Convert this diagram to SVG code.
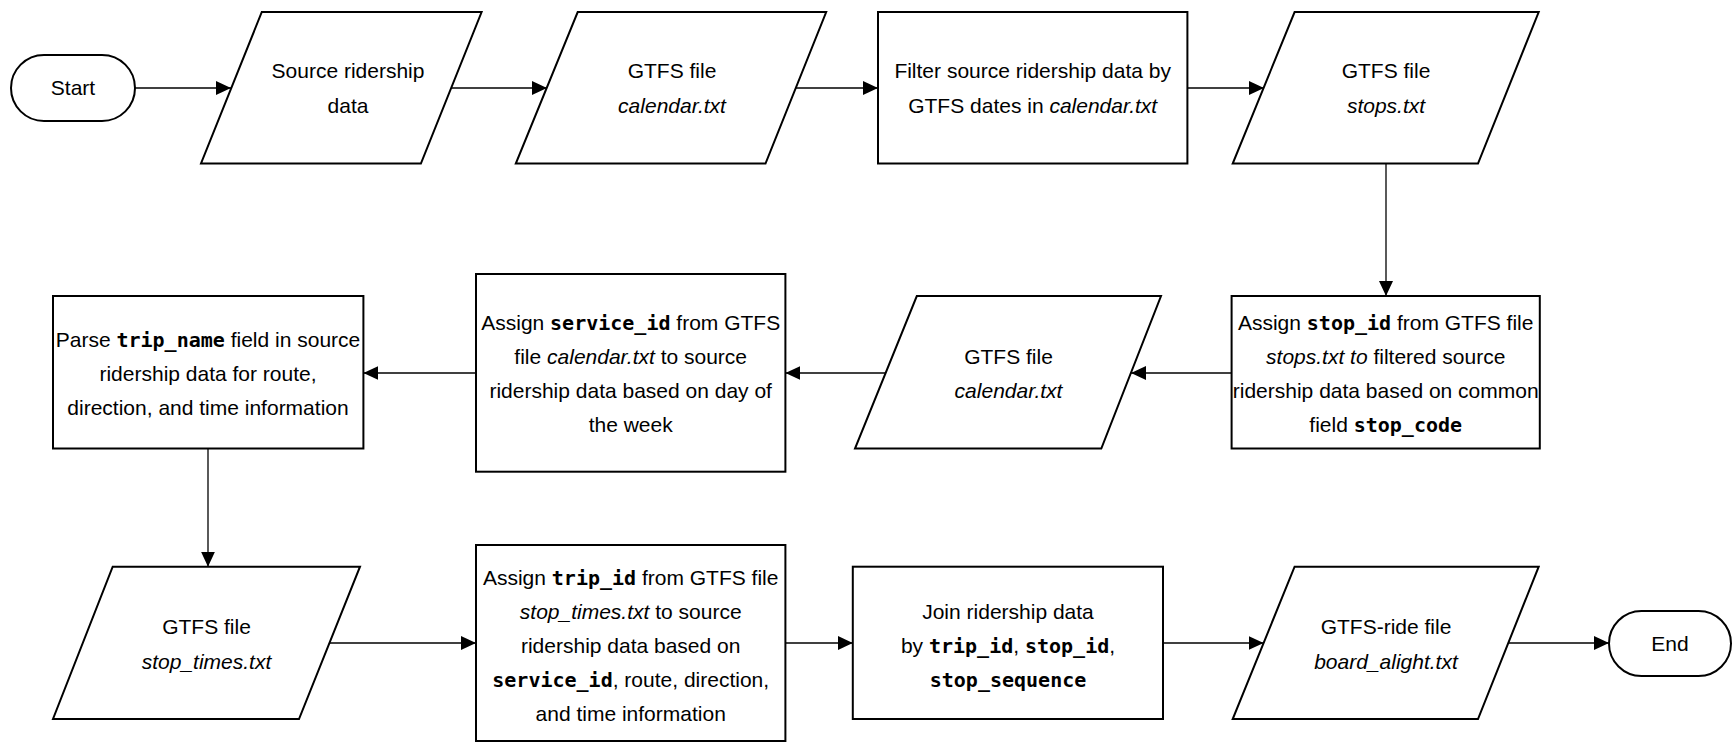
<svg xmlns="http://www.w3.org/2000/svg" width="1732" height="742" viewBox="0 0 1732 742">
<style>
.s{fill:#fff;stroke:#000;stroke-width:2}
.c{stroke:#000;stroke-width:1.3;fill:none;marker-end:url(#ah)}
text{font-family:"Liberation Sans",Arial,sans-serif;font-size:21px;fill:#000;text-anchor:middle}
.m{font-family:"DejaVu Sans Mono","Liberation Mono",monospace;font-weight:bold;font-size:20px}
.i{font-style:italic}
</style>
<defs>
<marker id="ah" markerUnits="userSpaceOnUse" markerWidth="15" markerHeight="14" refX="15" refY="7" orient="auto">
<path d="M0,0 L15,7 L0,14 z" fill="#000"/>
</marker>
</defs>
<g id="connectors">
<line class="c" x1="135" y1="88" x2="231" y2="88"/>
<line class="c" x1="451" y1="88" x2="547" y2="88"/>
<line class="c" x1="796" y1="88" x2="878" y2="88"/>
<line class="c" x1="1187" y1="88" x2="1264" y2="88"/>
<line class="c" x1="1386" y1="163.5" x2="1386" y2="296"/>
<line class="c" x1="1231.6" y1="373" x2="1131" y2="373"/>
<line class="c" x1="886" y1="373" x2="785.4" y2="373"/>
<line class="c" x1="476" y1="373" x2="363.4" y2="373"/>
<line class="c" x1="208" y1="448.5" x2="208" y2="566.7"/>
<line class="c" x1="329.5" y1="643" x2="476" y2="643"/>
<line class="c" x1="785.4" y1="643" x2="852.8" y2="643"/>
<line class="c" x1="1163" y1="643" x2="1263.6" y2="643"/>
<line class="c" x1="1508" y1="643" x2="1609" y2="643"/>
</g>
<g id="start">
<rect class="s" x="11" y="55" width="124" height="66" rx="33"/>
<text x="73" y="95">Start</text>
</g>
<g id="source-data">
<polygon class="s" points="261.8,12 481.6,12 420.9,163.5 201,163.5"/>
<text x="348" y="78">Source ridership</text>
<text x="348" y="113">data</text>
</g>
<g id="calendar1">
<polygon class="s" points="577.7,12 826.2,12 765.5,163.5 515.8,163.5"/>
<text x="672" y="78">GTFS file</text>
<text x="672" y="113" class="i">calendar.txt</text>
</g>
<g id="filter">
<rect class="s" x="878" y="12" width="309.4" height="151.5"/>
<text x="1032.7" y="78">Filter source ridership data by</text>
<text x="1032.7" y="113">GTFS dates in <tspan class="i">calendar.txt</tspan></text>
</g>
<g id="stops">
<polygon class="s" points="1294.6,12 1538.7,12 1478,163.5 1232.7,163.5"/>
<text x="1386" y="78">GTFS file</text>
<text x="1386" y="113" class="i">stops.txt</text>
</g>
<g id="assign-stop">
<rect class="s" x="1231.6" y="296" width="308.2" height="152.5"/>
<text x="1385.7" y="329.5">Assign <tspan class="m">stop_id</tspan> from GTFS file</text>
<text x="1385.7" y="363.5"><tspan class="i">stops.txt to</tspan> filtered source</text>
<text x="1385.7" y="397.5">ridership data based on common</text>
<text x="1385.7" y="431.5">field <tspan class="m">stop_code</tspan></text>
</g>
<g id="calendar2">
<polygon class="s" points="916.8,296 1161,296 1101.3,448.5 855,448.5"/>
<text x="1008.5" y="363.5">GTFS file</text>
<text x="1008.5" y="397.5" class="i">calendar.txt</text>
</g>
<g id="assign-service">
<rect class="s" x="476" y="274" width="309.4" height="197.7"/>
<text x="630.7" y="329.5">Assign <tspan class="m">service_id</tspan> from GTFS</text>
<text x="630.7" y="363.5">file <tspan class="i">calendar.txt</tspan> to source</text>
<text x="630.7" y="397.5">ridership data based on day of</text>
<text x="630.7" y="431.5">the week</text>
</g>
<g id="parse">
<rect class="s" x="53" y="296" width="310.4" height="152.5"/>
<text x="208" y="346.5">Parse <tspan class="m">trip_name</tspan> field in source</text>
<text x="208" y="380.5">ridership data for route,</text>
<text x="208" y="414.5">direction, and time information</text>
</g>
<g id="stop-times">
<polygon class="s" points="112.7,566.7 360,566.7 299,719 53,719"/>
<text x="206.5" y="633.5">GTFS file</text>
<text x="206.5" y="668.5" class="i">stop_times.txt</text>
</g>
<g id="assign-trip">
<rect class="s" x="476" y="545" width="309.4" height="196"/>
<text x="630.7" y="584.5">Assign <tspan class="m">trip_id</tspan> from GTFS file</text>
<text x="630.7" y="618.5"><tspan class="i">stop_times.txt</tspan> to source</text>
<text x="630.7" y="652.5">ridership data based on</text>
<text x="630.7" y="686.5"><tspan class="m">service_id</tspan>, route, direction,</text>
<text x="630.7" y="720.5">and time information</text>
</g>
<g id="join">
<rect class="s" x="852.8" y="566.7" width="310.2" height="152.3"/>
<text x="1008" y="618.5">Join ridership data</text>
<text x="1008" y="652.5">by <tspan class="m">trip_id</tspan>, <tspan class="m">stop_id</tspan>,</text>
<text x="1008" y="686.5" class="m">stop_sequence</text>
</g>
<g id="board-alight">
<polygon class="s" points="1294.6,566.7 1538.7,566.7 1478,719 1232.7,719"/>
<text x="1386" y="633.5">GTFS-ride file</text>
<text x="1386" y="668.5" class="i">board_alight.txt</text>
</g>
<g id="end">
<rect class="s" x="1609" y="611" width="122" height="65" rx="32.5"/>
<text x="1670" y="650.5">End</text>
</g>
</svg>
